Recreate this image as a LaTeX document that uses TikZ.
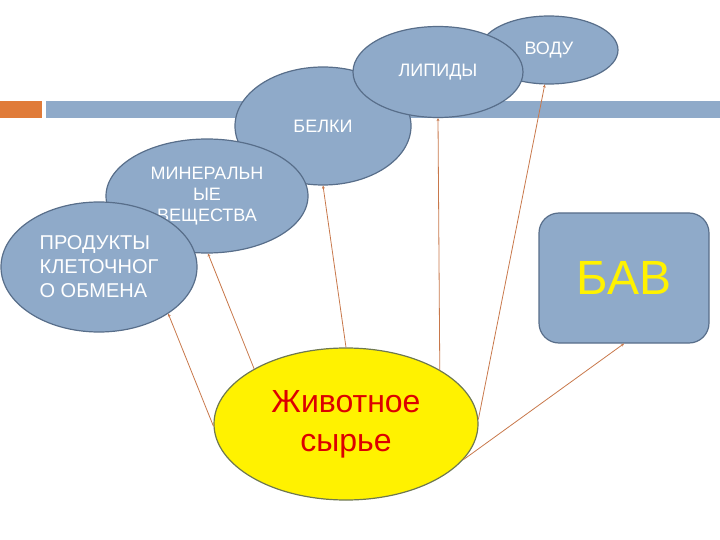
\documentclass[tikz,border=0pt]{standalone}
\usepackage{fontspec}
\setmainfont{Liberation Sans}
\usepackage{tikz}
\usetikzlibrary{shapes.geometric}
\usetikzlibrary{arrows.meta}
\definecolor{blobfill}{RGB}{143,170,201}
\definecolor{blobline}{RGB}{88,110,138}
\definecolor{barorange}{RGB}{224,123,57}
\definecolor{linkcol}{RGB}{200,120,75}
\definecolor{rawline}{RGB}{110,120,80}
\definecolor{rawtext}{RGB}{220,0,0}

\begin{document}
\begin{tikzpicture}[x=1pt,y=-1pt,
    blob/.style={ellipse,draw=blobline,fill=blobfill,line width=1.2pt,inner sep=0pt,text=white,font=\fontsize{18}{22}\selectfont,align=center},
    link/.style={linkcol,line width=0.8pt,-{Stealth[length=3pt,width=3pt]}}]
\useasboundingbox (0,0) rectangle (720,540);
\fill[barorange] (0,101) rectangle (42,118);
\fill[blobfill] (46,101) rectangle (720,118);

\node[blob,minimum width=138pt,minimum height=68pt] (w) at (549,50) {ВОДУ};
\node[blob,minimum width=176pt,minimum height=118pt] (b) at (323,126) {БЕЛКИ};
\node[blob,minimum width=170pt,minimum height=91pt] (l) at (438,72) {ЛИПИДЫ};
\node[blob,minimum width=202pt,minimum height=114pt,font=\fontsize{18}{21}\selectfont] (m) at (207,196) {МИНЕРАЛЬН\\ЫЕ\\ВЕЩЕСТВА};
\node[blob,minimum width=196pt,minimum height=130pt,align=left,font=\fontsize{20}{24}\selectfont] (p) at (99,267) {ПРОДУКТЫ\\КЛЕТОЧНОГ\\О ОБМЕНА};
\node[blob,draw=rawline,fill=yellow,text=rawtext,minimum width=264pt,minimum height=152pt,font=\fontsize{32}{39}\selectfont] (s) at (346,424) {Животное\\сырье};
\node[draw=blobline,fill=blobfill,line width=1.2pt,rounded corners=20pt,minimum width=170pt,minimum height=130pt,text=yellow,font=\fontsize{48}{56}\selectfont] (bav) at (624,278) {БАВ};

\draw[link] (s.181) -- (p.-34);
\draw[link] (s.149) -- (m.-89);
\draw[link] (s.90) -- (b.-90);
\draw[link] (s.30) -- (l.-90);
\draw[link] (s.2) -- (w.-97);
\draw[link] (s.-17) -- (bav.south);
\end{tikzpicture}
\end{document}
